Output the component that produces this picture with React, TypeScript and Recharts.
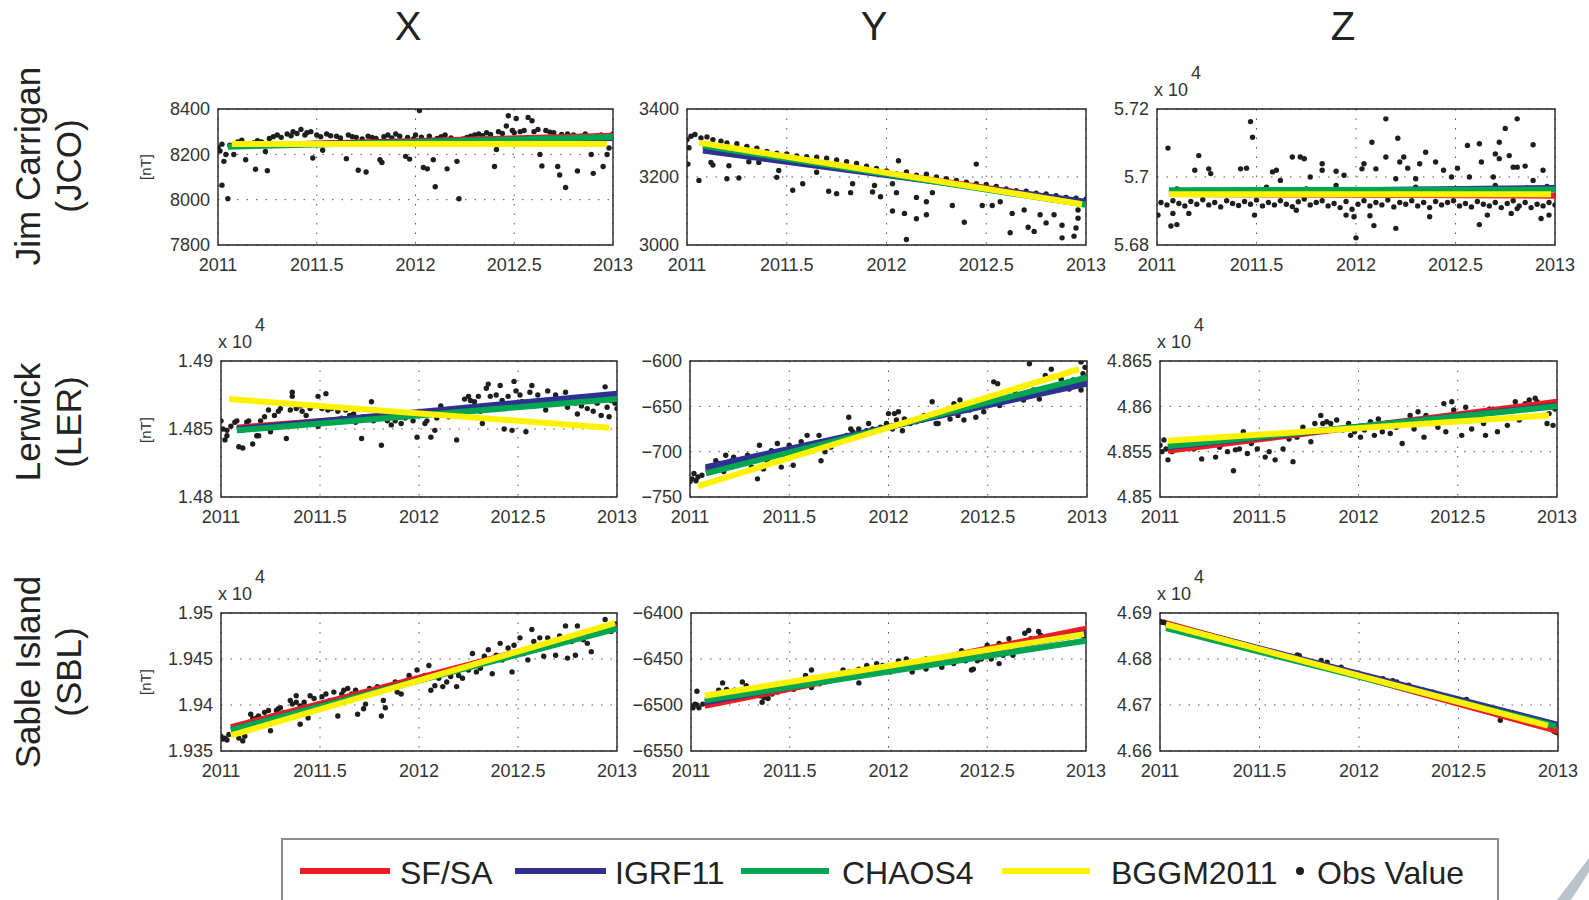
import React from "react";
import {
  ComposedChart,
  Scatter,
  XAxis,
  YAxis,
  CartesianGrid,
  ReferenceArea,
} from "recharts";

type Pair = [number, number];

const years = [2011, 2011.5, 2012, 2012.5, 2013];
const components = ["X", "Y", "Z"];
const stations = [
  ["Jim Carrigan", "(JCO)"],
  ["Lerwick", "(LER)"],
  ["Sable Island", "(SBL)"],
];
const modelNames = ["SF/SA", "IGRF11", "CHAOS4", "BGGM2011"];
const modelColors = ["#ed1c24", "#2e3192", "#00a651", "#fff200"];

// y ticks per panel (nT)
const jcoXTicks = [7800, 8000, 8200, 8400];
const jcoYTicks = [3000, 3200, 3400];
const jcoZTicks = [56800, 57000, 57200];
const lerXTicks = [14800, 14850, 14900];
const lerYTicks = [-750, -700, -650, -600];
const lerZTicks = [48500, 48550, 48600, 48650];
const sblXTicks = [19350, 19400, 19450, 19500];
const sblYTicks = [-6550, -6500, -6450, -6400];
const sblZTicks = [46600, 46700, 46800, 46900];

// model fit lines, start and end: SF/SA, IGRF11, CHAOS4, BGGM2011
const jcoXFits: Pair[][] = [
  [[2011.08, 8238], [2013, 8282]],
  [[2011.08, 8240], [2013, 8272]],
  [[2011.05, 8234], [2013, 8276]],
  [[2011.07, 8246], [2012.97, 8246]],
];
const jcoYFits: Pair[][] = [
  [[2011.08, 3290], [2013, 3125]],
  [[2011.08, 3278], [2013, 3127]],
  [[2011.08, 3292], [2013, 3118]],
  [[2011.06, 3301], [2012.98, 3120]],
];
const jcoZFits: Pair[][] = [
  [[2011.06, 56950], [2013, 56945]],
  [[2011.06, 56955], [2013, 56968]],
  [[2011.06, 56961], [2013, 56963]],
  [[2011.06, 56949], [2012.98, 56949]],
];
const lerXFits: Pair[][] = [
  [[2011.08, 14851], [2013, 14873]],
  [[2011.08, 14850], [2013, 14876]],
  [[2011.08, 14849], [2013, 14872]],
  [[2011.04, 14872], [2012.96, 14851]],
];
const lerYFits: Pair[][] = [
  [[2011.08, -722], [2013, -620]],
  [[2011.08, -717], [2013, -625]],
  [[2011.08, -724], [2013, -618]],
  [[2011.04, -738], [2012.96, -609]],
];
const lerZFits: Pair[][] = [
  [[2011.04, 48551], [2013, 48605]],
  [[2011.04, 48555], [2013, 48601]],
  [[2011.04, 48556], [2013, 48600]],
  [[2011.04, 48562], [2012.96, 48590]],
];
const sblXFits: Pair[][] = [
  [[2011.05, 19376], [2013, 19486]],
  [[2011.05, 19373], [2013, 19484]],
  [[2011.05, 19373], [2013, 19483]],
  [[2011.05, 19367], [2012.99, 19489]],
];
const sblYFits: Pair[][] = [
  [[2011.07, -6501], [2013, -6417]],
  [[2011.07, -6497], [2013, -6422]],
  [[2011.07, -6495], [2013, -6430]],
  [[2011.07, -6490], [2012.99, -6423]],
];
const sblZFits: Pair[][] = [
  [[2011.03, 46878], [2013, 46643]],
  [[2011.03, 46875], [2013, 46657]],
  [[2011.03, 46867], [2012.99, 46654]],
  [[2011.03, 46875], [2012.95, 46655]],
];

// observatory values
const jcoXObs: Pair[] = [
  [2011.0, 8230], [2011.01, 8215], [2011.02, 8064], [2011.02, 8245], [2011.03, 8169], [2011.04, 8199],
  [2011.05, 8004], [2011.06, 8240], [2011.08, 8199], [2011.1, 8255], [2011.12, 8262], [2011.14, 8176],
  [2011.15, 8245], [2011.18, 8250], [2011.19, 8134], [2011.2, 8260], [2011.22, 8255], [2011.24, 8213],
  [2011.25, 8128], [2011.26, 8270], [2011.28, 8278], [2011.3, 8285], [2011.32, 8275], [2011.35, 8290],
  [2011.37, 8282], [2011.38, 8300], [2011.4, 8292], [2011.42, 8310], [2011.44, 8285], [2011.45, 8295],
  [2011.47, 8300], [2011.48, 8184], [2011.5, 8285], [2011.52, 8278], [2011.53, 8218], [2011.55, 8290],
  [2011.57, 8282], [2011.6, 8280], [2011.62, 8272], [2011.65, 8181], [2011.66, 8285], [2011.68, 8278],
  [2011.7, 8275], [2011.71, 8130], [2011.73, 8268], [2011.75, 8122], [2011.76, 8280], [2011.78, 8274],
  [2011.8, 8270], [2011.82, 8176], [2011.83, 8164], [2011.84, 8278], [2011.86, 8285], [2011.88, 8272],
  [2011.9, 8290], [2011.92, 8280], [2011.95, 8191], [2011.96, 8275], [2011.97, 8179], [2011.99, 8268],
  [2012.0, 8285], [2012.02, 8393], [2012.03, 8276], [2012.04, 8142], [2012.06, 8136], [2012.07, 8280],
  [2012.09, 8176], [2012.1, 8057], [2012.11, 8270], [2012.13, 8278], [2012.15, 8285], [2012.16, 8136],
  [2012.18, 8272], [2012.2, 8265], [2012.21, 8169], [2012.22, 8004], [2012.24, 8268], [2012.26, 8275],
  [2012.28, 8280], [2012.3, 8285], [2012.32, 8290], [2012.34, 8282], [2012.36, 8295], [2012.38, 8288],
  [2012.4, 8146], [2012.41, 8221], [2012.42, 8300], [2012.44, 8292], [2012.46, 8325], [2012.47, 8370],
  [2012.49, 8305], [2012.5, 8295], [2012.51, 8358], [2012.53, 8300], [2012.55, 8305], [2012.57, 8363],
  [2012.59, 8348], [2012.6, 8300], [2012.62, 8310], [2012.63, 8199], [2012.64, 8149], [2012.66, 8305],
  [2012.68, 8298], [2012.7, 8295], [2012.72, 8146], [2012.73, 8109], [2012.74, 8288], [2012.76, 8054],
  [2012.77, 8290], [2012.8, 8285], [2012.82, 8127], [2012.84, 8280], [2012.86, 8290], [2012.88, 8278],
  [2012.89, 8199], [2012.9, 8116], [2012.92, 8282], [2012.94, 8285], [2012.95, 8146], [2012.97, 8199],
  [2012.98, 8228], [2013.0, 8290],
];
const jcoYObs: Pair[] = [
  [2011.0, 3310], [2011.005, 3238], [2011.01, 3286], [2011.02, 3320], [2011.04, 3325], [2011.06, 3190],
  [2011.07, 3315], [2011.1, 3318], [2011.12, 3243], [2011.13, 3235], [2011.13, 3310], [2011.17, 3305],
  [2011.2, 3195], [2011.2, 3300], [2011.21, 3233], [2011.25, 3298], [2011.26, 3197], [2011.3, 3290],
  [2011.31, 3245], [2011.35, 3285], [2011.36, 3243], [2011.4, 3275], [2011.45, 3199], [2011.45, 3270],
  [2011.46, 3219], [2011.5, 3268], [2011.53, 3161], [2011.55, 3262], [2011.58, 3180], [2011.6, 3260],
  [2011.65, 3214], [2011.65, 3258], [2011.7, 3255], [2011.71, 3158], [2011.75, 3151], [2011.75, 3250],
  [2011.8, 3245], [2011.82, 3154], [2011.83, 3180], [2011.85, 3240], [2011.9, 3232], [2011.93, 3156],
  [2011.94, 3175], [2011.95, 3225], [2011.97, 3142], [2012.0, 3218], [2012.03, 3180], [2012.03, 3100],
  [2012.05, 3154], [2012.05, 3210], [2012.06, 3248], [2012.09, 3093], [2012.1, 3016], [2012.1, 3215],
  [2012.15, 3140], [2012.15, 3077], [2012.15, 3205], [2012.2, 3127], [2012.2, 3089], [2012.2, 3208],
  [2012.23, 3154], [2012.25, 3200], [2012.3, 3195], [2012.33, 3116], [2012.35, 3190], [2012.39, 3067],
  [2012.4, 3185], [2012.45, 3238], [2012.45, 3180], [2012.48, 3116], [2012.5, 3178], [2012.53, 3116],
  [2012.55, 3172], [2012.57, 3127], [2012.6, 3165], [2012.62, 3036], [2012.63, 3093], [2012.65, 3160],
  [2012.69, 3103], [2012.7, 3158], [2012.71, 3052], [2012.74, 3040], [2012.75, 3152], [2012.77, 3089],
  [2012.8, 3065], [2012.8, 3150], [2012.84, 3089], [2012.85, 3145], [2012.88, 3021], [2012.88, 3058],
  [2012.9, 3140], [2012.94, 3026], [2012.95, 3050], [2012.95, 3138], [2012.96, 3079], [2012.96, 3103],
  [2013.0, 3135],
];
const jcoZObs: Pair[] = [
  [2011.005, 56888], [2011.02, 56925], [2011.05, 56918], [2011.055, 57085], [2011.07, 56856], [2011.08, 56893],
  [2011.08, 56930], [2011.1, 56860], [2011.1, 56965], [2011.11, 56922], [2011.14, 56915], [2011.16, 56893],
  [2011.17, 56928], [2011.19, 57020], [2011.2, 56920], [2011.21, 57063], [2011.23, 56933], [2011.26, 57024],
  [2011.26, 56918], [2011.27, 57010], [2011.29, 56925], [2011.3, 56960], [2011.32, 56912], [2011.35, 56930],
  [2011.38, 56922], [2011.41, 56916], [2011.42, 57024], [2011.44, 56928], [2011.45, 57026], [2011.47, 57163],
  [2011.47, 56920], [2011.48, 57117], [2011.49, 56888], [2011.5, 56932], [2011.53, 56915], [2011.55, 56970],
  [2011.56, 56925], [2011.58, 57015], [2011.59, 56918], [2011.6, 57020], [2011.62, 56990], [2011.62, 56930],
  [2011.65, 56920], [2011.68, 57059], [2011.68, 56913], [2011.7, 56902], [2011.71, 56927], [2011.72, 57059],
  [2011.74, 57054], [2011.74, 56935], [2011.75, 56965], [2011.77, 57000], [2011.77, 56918], [2011.8, 56925],
  [2011.83, 57039], [2011.83, 57020], [2011.83, 56930], [2011.86, 56915], [2011.89, 56922], [2011.9, 57017],
  [2011.9, 56975], [2011.92, 56910], [2011.94, 57005], [2011.95, 56888], [2011.95, 56928], [2011.98, 56905],
  [2011.99, 56883], [2012.0, 56821], [2012.01, 56920], [2012.03, 57024], [2012.04, 57039], [2012.04, 56930],
  [2012.07, 56886], [2012.07, 56915], [2012.08, 57102], [2012.09, 56857], [2012.1, 57024], [2012.1, 56925],
  [2012.12, 56960], [2012.13, 56918], [2012.15, 57171], [2012.15, 57059], [2012.16, 56932], [2012.19, 56912],
  [2012.2, 56995], [2012.2, 56849], [2012.21, 57114], [2012.22, 57044], [2012.22, 56925], [2012.24, 57059],
  [2012.25, 56920], [2012.26, 57026], [2012.28, 56930], [2012.3, 56995], [2012.3, 56970], [2012.31, 56915],
  [2012.32, 57039], [2012.34, 56925], [2012.35, 57073], [2012.37, 56883], [2012.37, 56910], [2012.4, 57044],
  [2012.4, 56928], [2012.43, 56918], [2012.44, 57020], [2012.46, 56925], [2012.48, 57000], [2012.49, 56930],
  [2012.5, 56965], [2012.51, 57026], [2012.52, 56915], [2012.55, 56922], [2012.56, 57093], [2012.57, 57000],
  [2012.58, 56912], [2012.61, 56928], [2012.62, 57098], [2012.62, 56860], [2012.63, 57044], [2012.64, 56920],
  [2012.66, 56888], [2012.67, 56915], [2012.69, 57000], [2012.7, 57068], [2012.7, 56975], [2012.7, 56925],
  [2012.72, 57054], [2012.72, 57102], [2012.73, 56910], [2012.75, 57143], [2012.76, 56922], [2012.77, 57063],
  [2012.78, 56893], [2012.79, 57029], [2012.79, 56930], [2012.81, 57171], [2012.81, 57029], [2012.81, 56907],
  [2012.82, 56915], [2012.85, 57032], [2012.85, 56925], [2012.86, 56968], [2012.88, 56910], [2012.89, 57095],
  [2012.89, 56990], [2012.91, 56920], [2012.93, 56878], [2012.94, 57020], [2012.94, 56915], [2012.96, 56972],
  [2012.97, 56888], [2012.97, 56925], [2013.0, 56918],
];
const lerXObs: Pair[] = [
  [2011.0, 14856], [2011.01, 14850], [2011.02, 14842], [2011.03, 14845], [2011.03, 14849], [2011.05, 14852],
  [2011.07, 14855], [2011.08, 14856], [2011.09, 14837], [2011.11, 14836], [2011.11, 14849], [2011.13, 14855],
  [2011.14, 14856], [2011.16, 14839], [2011.18, 14845], [2011.19, 14845], [2011.2, 14856], [2011.22, 14859],
  [2011.24, 14864], [2011.25, 14848], [2011.27, 14860], [2011.29, 14863], [2011.3, 14865], [2011.33, 14843],
  [2011.35, 14864], [2011.36, 14877], [2011.36, 14874], [2011.38, 14865], [2011.4, 14867], [2011.41, 14863],
  [2011.43, 14860], [2011.45, 14865], [2011.46, 14867], [2011.49, 14874], [2011.49, 14852], [2011.51, 14865],
  [2011.53, 14876], [2011.54, 14864], [2011.56, 14865], [2011.59, 14863], [2011.61, 14858], [2011.63, 14864],
  [2011.65, 14860], [2011.67, 14861], [2011.68, 14855], [2011.71, 14843], [2011.72, 14859], [2011.74, 14858],
  [2011.76, 14870], [2011.77, 14856], [2011.81, 14838], [2011.82, 14859], [2011.84, 14856], [2011.86, 14853],
  [2011.88, 14856], [2011.91, 14854], [2011.93, 14858], [2011.94, 14861], [2011.97, 14856], [2011.99, 14844],
  [2012.0, 14860], [2012.03, 14854], [2012.04, 14856], [2012.06, 14844], [2012.08, 14849], [2012.09, 14858],
  [2012.11, 14867], [2012.12, 14861], [2012.15, 14859], [2012.19, 14842], [2012.2, 14863], [2012.22, 14861],
  [2012.23, 14872], [2012.25, 14874], [2012.26, 14871], [2012.28, 14870], [2012.3, 14874], [2012.31, 14863],
  [2012.32, 14854], [2012.34, 14880], [2012.35, 14883], [2012.36, 14874], [2012.37, 14865], [2012.39, 14875],
  [2012.41, 14882], [2012.42, 14871], [2012.43, 14850], [2012.45, 14874], [2012.47, 14849], [2012.48, 14885],
  [2012.49, 14878], [2012.51, 14875], [2012.52, 14870], [2012.54, 14848], [2012.56, 14877], [2012.57, 14882],
  [2012.58, 14867], [2012.6, 14875], [2012.63, 14870], [2012.64, 14864], [2012.65, 14878], [2012.68, 14869],
  [2012.69, 14875], [2012.71, 14870], [2012.74, 14877], [2012.75, 14866], [2012.77, 14871], [2012.79, 14869],
  [2012.8, 14861], [2012.82, 14867], [2012.84, 14871], [2012.85, 14865], [2012.88, 14863], [2012.9, 14869],
  [2012.92, 14860], [2012.94, 14881], [2012.95, 14866], [2012.96, 14859], [2012.97, 14871], [2012.99, 14869],
  [2013.0, 14865],
];
const lerYObs: Pair[] = [
  [2011.0, -733], [2011.01, -730], [2011.02, -724], [2011.03, -732], [2011.04, -728], [2011.06, -726],
  [2011.09, -717], [2011.1, -722], [2011.13, -710], [2011.15, -713], [2011.17, -722], [2011.18, -704],
  [2011.21, -710], [2011.22, -706], [2011.25, -711], [2011.29, -704], [2011.31, -717], [2011.34, -730],
  [2011.35, -693], [2011.37, -719], [2011.39, -711], [2011.41, -699], [2011.44, -691], [2011.46, -717],
  [2011.47, -704], [2011.5, -693], [2011.52, -715], [2011.55, -702], [2011.56, -689], [2011.59, -682],
  [2011.62, -699], [2011.65, -682], [2011.66, -710], [2011.68, -700], [2011.71, -695], [2011.76, -688],
  [2011.79, -682], [2011.8, -662], [2011.81, -675], [2011.82, -678], [2011.85, -675], [2011.89, -677],
  [2011.9, -669], [2011.92, -675], [2011.96, -673], [2011.99, -669], [2012.0, -658], [2012.02, -675],
  [2012.03, -658], [2012.04, -665], [2012.05, -656], [2012.07, -677], [2012.08, -664], [2012.11, -669],
  [2012.14, -667], [2012.17, -665], [2012.18, -660], [2012.22, -645], [2012.24, -669], [2012.25, -669],
  [2012.27, -660], [2012.31, -664], [2012.33, -647], [2012.35, -660], [2012.36, -643], [2012.38, -665],
  [2012.41, -654], [2012.44, -662], [2012.48, -656], [2012.51, -647], [2012.53, -623], [2012.55, -625],
  [2012.56, -649], [2012.6, -640], [2012.64, -636], [2012.68, -643], [2012.71, -603], [2012.73, -632],
  [2012.76, -642], [2012.79, -616], [2012.82, -609], [2012.85, -627], [2012.87, -620], [2012.91, -631],
  [2012.93, -621], [2012.97, -632], [2012.97, -601], [2012.98, -614], [2012.99, -607], [2013.0, -618],
];
const lerZObs: Pair[] = [
  [2011.0, 48557], [2011.01, 48550], [2011.02, 48563], [2011.03, 48553], [2011.04, 48541], [2011.06, 48550],
  [2011.08, 48553], [2011.12, 48555], [2011.17, 48553], [2011.21, 48542], [2011.24, 48557], [2011.28, 48544],
  [2011.3, 48555], [2011.34, 48550], [2011.37, 48529], [2011.38, 48552], [2011.4, 48553], [2011.42, 48572],
  [2011.44, 48548], [2011.46, 48559], [2011.49, 48553], [2011.5, 48564], [2011.53, 48544], [2011.55, 48550],
  [2011.58, 48541], [2011.6, 48568], [2011.62, 48553], [2011.65, 48564], [2011.67, 48539], [2011.69, 48566],
  [2011.72, 48577], [2011.74, 48570], [2011.76, 48561], [2011.78, 48581], [2011.81, 48590], [2011.82, 48581],
  [2011.84, 48583], [2011.86, 48581], [2011.89, 48585], [2011.92, 48574], [2011.95, 48581], [2011.96, 48568],
  [2011.98, 48572], [2012.01, 48566], [2012.03, 48574], [2012.06, 48583], [2012.08, 48568], [2012.1, 48586],
  [2012.12, 48572], [2012.16, 48570], [2012.19, 48577], [2012.22, 48559], [2012.26, 48590], [2012.28, 48575],
  [2012.3, 48594], [2012.33, 48566], [2012.34, 48590], [2012.38, 48581], [2012.4, 48577], [2012.43, 48603],
  [2012.44, 48572], [2012.47, 48605], [2012.48, 48596], [2012.52, 48568], [2012.54, 48599], [2012.57, 48575],
  [2012.6, 48588], [2012.63, 48581], [2012.64, 48568], [2012.66, 48597], [2012.7, 48572], [2012.72, 48594],
  [2012.75, 48579], [2012.79, 48605], [2012.81, 48585], [2012.84, 48603], [2012.86, 48607], [2012.89, 48609],
  [2012.9, 48605], [2012.93, 48601], [2012.95, 48581], [2012.96, 48592], [2012.98, 48579], [2012.99, 48597],
  [2013.0, 48603],
];
const sblXObs: Pair[] = [
  [2011.0, 19366], [2011.01, 19363], [2011.02, 19364], [2011.03, 19362], [2011.04, 19368], [2011.09, 19364],
  [2011.11, 19361], [2011.12, 19366], [2011.14, 19381], [2011.15, 19390], [2011.16, 19385], [2011.18, 19386],
  [2011.19, 19388], [2011.22, 19392], [2011.24, 19394], [2011.25, 19372], [2011.26, 19388], [2011.28, 19394],
  [2011.29, 19396], [2011.3, 19397], [2011.32, 19392], [2011.34, 19388], [2011.35, 19405], [2011.36, 19401],
  [2011.38, 19403], [2011.38, 19410], [2011.4, 19399], [2011.4, 19379], [2011.42, 19403], [2011.44, 19386],
  [2011.45, 19410], [2011.47, 19407], [2011.49, 19401], [2011.51, 19409], [2011.53, 19412], [2011.55, 19405],
  [2011.57, 19414], [2011.59, 19388], [2011.61, 19412], [2011.62, 19416], [2011.64, 19418], [2011.66, 19412],
  [2011.68, 19416], [2011.69, 19390], [2011.72, 19396], [2011.73, 19401], [2011.75, 19418], [2011.78, 19416],
  [2011.79, 19420], [2011.81, 19388], [2011.82, 19405], [2011.83, 19397], [2011.85, 19421], [2011.88, 19425],
  [2011.89, 19414], [2011.91, 19412], [2011.94, 19427], [2011.95, 19432], [2011.97, 19425], [2011.99, 19438],
  [2012.0, 19427], [2012.03, 19432], [2012.05, 19443], [2012.06, 19416], [2012.08, 19421], [2012.1, 19429],
  [2012.12, 19420], [2012.14, 19425], [2012.16, 19431], [2012.19, 19420], [2012.2, 19432], [2012.22, 19429],
  [2012.25, 19438], [2012.27, 19456], [2012.29, 19436], [2012.31, 19440], [2012.33, 19453], [2012.35, 19460],
  [2012.37, 19434], [2012.39, 19454], [2012.41, 19467], [2012.42, 19449], [2012.45, 19462], [2012.47, 19436],
  [2012.48, 19465], [2012.51, 19473], [2012.53, 19456], [2012.55, 19449], [2012.57, 19482], [2012.58, 19469],
  [2012.61, 19473], [2012.63, 19453], [2012.65, 19473], [2012.69, 19454], [2012.71, 19475], [2012.74, 19486],
  [2012.75, 19451], [2012.77, 19469], [2012.79, 19454], [2012.8, 19486], [2012.83, 19471], [2012.85, 19467],
  [2012.87, 19458], [2012.89, 19477], [2012.91, 19478], [2012.94, 19493], [2012.95, 19482], [2012.97, 19480],
  [2012.99, 19488], [2013.0, 19484],
];
const sblYObs: Pair[] = [
  [2011.0, -6501], [2011.01, -6503], [2011.02, -6499], [2011.03, -6500], [2011.03, -6485], [2011.04, -6503],
  [2011.06, -6499], [2011.14, -6484], [2011.16, -6476], [2011.18, -6483], [2011.22, -6484], [2011.26, -6475],
  [2011.28, -6479], [2011.3, -6486], [2011.33, -6488], [2011.35, -6490], [2011.36, -6497], [2011.37, -6492],
  [2011.39, -6493], [2011.41, -6488], [2011.44, -6486], [2011.47, -6484], [2011.49, -6481], [2011.52, -6483],
  [2011.55, -6479], [2011.58, -6468], [2011.61, -6462], [2011.61, -6481], [2011.65, -6477], [2011.7, -6470],
  [2011.77, -6462], [2011.8, -6464], [2011.85, -6476], [2011.85, -6461], [2011.89, -6457], [2011.94, -6455],
  [2011.97, -6457], [2012.01, -6464], [2012.05, -6452], [2012.09, -6450], [2012.12, -6464], [2012.16, -6455],
  [2012.19, -6450], [2012.19, -6461], [2012.23, -6455], [2012.27, -6459], [2012.29, -6453], [2012.33, -6455],
  [2012.37, -6441], [2012.39, -6452], [2012.42, -6462], [2012.43, -6461], [2012.45, -6452], [2012.47, -6450],
  [2012.5, -6435], [2012.52, -6450], [2012.56, -6455], [2012.56, -6433], [2012.58, -6446], [2012.61, -6428],
  [2012.63, -6446], [2012.66, -6439], [2012.69, -6422], [2012.71, -6419], [2012.72, -6428], [2012.76, -6420],
  [2012.77, -6424], [2012.8, -6428], [2012.84, -6426], [2012.89, -6424], [2012.92, -6422], [2012.95, -6420],
  [2012.97, -6431], [2012.99, -6426],
];
const sblZObs: Pair[] = [
  [2011.0, 46882], [2011.01, 46880], [2011.02, 46880], [2011.03, 46878], [2011.3, 46845], [2011.5, 46822],
  [2011.69, 46809], [2011.7, 46807], [2011.81, 46797], [2011.84, 46793], [2011.91, 46782], [2012.12, 46757],
  [2012.17, 46753], [2012.19, 46750], [2012.25, 46743], [2012.32, 46732], [2012.37, 46728], [2012.54, 46712],
  [2012.56, 46704], [2012.68, 46691], [2012.71, 46667], [2012.77, 46683], [2012.98, 46643], [2012.99, 46641],
  [2013.0, 46639],
];

type PanelSpec = {
  obs: Pair[];
  fits: Pair[][];
  ticks: number[];
  exp: boolean;
};

const panels: PanelSpec[][] = [
  [
    { obs: jcoXObs, fits: jcoXFits, ticks: jcoXTicks, exp: false },
    { obs: jcoYObs, fits: jcoYFits, ticks: jcoYTicks, exp: false },
    { obs: jcoZObs, fits: jcoZFits, ticks: jcoZTicks, exp: true },
  ],
  [
    { obs: lerXObs, fits: lerXFits, ticks: lerXTicks, exp: true },
    { obs: lerYObs, fits: lerYFits, ticks: lerYTicks, exp: false },
    { obs: lerZObs, fits: lerZFits, ticks: lerZTicks, exp: true },
  ],
  [
    { obs: sblXObs, fits: sblXFits, ticks: sblXTicks, exp: true },
    { obs: sblYObs, fits: sblYFits, ticks: sblYTicks, exp: false },
    { obs: sblZObs, fits: sblZFits, ticks: sblZTicks, exp: true },
  ],
];

// plot frames on the page
const rowTops = [109, 361, 613];
const rowHeights = [136, 136, 138];
const colLefts = [
  [218, 687, 1157],
  [221, 690, 1160],
  [221, 691, 1160],
];
const colWidths = [
  [395, 399, 398],
  [396, 397, 397],
  [396, 395, 398],
];

const FONT = "'Liberation Sans', Arial, Helvetica, sans-serif";
const TICK = { fontSize: 18, fill: "#333", fontFamily: FONT };

const toPts = (arr: Pair[]) => arr.map(([x, y]) => ({ x, y }));

const ObsDot = (p: any) => <circle cx={p.cx} cy={p.cy} r={2.7} fill="#1e1e1e" />;
const NoDot = () => <g />;

const Panel = ({
  spec,
  left,
  top,
  w,
  h,
}: {
  spec: PanelSpec;
  left: number;
  top: number;
  w: number;
  h: number;
}) => {
  const ML = 80;
  const MT = 14;
  const MR = 30;
  const MB = 36;
  const yMin = spec.ticks[0];
  const yMax = spec.ticks[spec.ticks.length - 1];
  const fmt = (v: number) => {
    const s = spec.exp ? String(parseFloat((v / 1e4).toFixed(4))) : String(v);
    return s.replace("-", "\u2212");
  };
  return (
    <div style={{ position: "absolute", left: left - ML, top: top - MT }}>
      <ComposedChart
        width={w + ML + MR}
        height={h + MT + MB}
        margin={{ top: MT, right: MR, bottom: 0, left: 0 }}
      >
        <CartesianGrid stroke="#555" strokeDasharray="1.5 8" />
        <XAxis
          type="number"
          dataKey="x"
          domain={[2011, 2013]}
          ticks={years}
          interval={0}
          height={MB}
          tickSize={0}
          tickMargin={13}
          axisLine={false}
          tick={TICK}
          allowDataOverflow
        />
        <YAxis
          type="number"
          dataKey="y"
          domain={[yMin, yMax]}
          ticks={spec.ticks}
          interval={0}
          width={ML}
          tickSize={0}
          tickMargin={8}
          axisLine={false}
          tick={TICK}
          tickFormatter={fmt}
          allowDataOverflow
        />
        <Scatter data={toPts(spec.obs)} shape={ObsDot} isAnimationActive={false} />
        {spec.fits.map((f, i) => (
          <Scatter
            key={modelNames[i]}
            data={toPts(f)}
            fill={modelColors[i]}
            line={{ stroke: modelColors[i], strokeWidth: 6 }}
            shape={NoDot}
            isAnimationActive={false}
          />
        ))}
        <ReferenceArea
          x1={2011}
          x2={2013}
          y1={yMin}
          y2={yMax}
          fill="none"
          stroke="#222"
          strokeWidth={1.4}
          fillOpacity={0}
        />
      </ComposedChart>
    </div>
  );
};

const abs = (extra: React.CSSProperties): React.CSSProperties => ({
  position: "absolute",
  fontFamily: FONT,
  color: "#222",
  whiteSpace: "nowrap",
  ...extra,
});

const headerX = [408, 874, 1343];
const stationY = [166, 422, 672];
const unitY = [167, 430, 682];

export default function App() {
  return (
    <div
      style={{
        position: "absolute",
        left: 0,
        top: 0,
        width: 1589,
        height: 900,
        overflow: "hidden",
        background: "#fff",
      }}
    >
      {components.map((c, i) => (
        <div
          key={c}
          style={abs({
            left: headerX[i],
            top: 26,
            fontSize: 40,
            lineHeight: "40px",
            transform: "translate(-50%, -50%)",
          })}
        >
          {c}
        </div>
      ))}

      {stations.map((s, r) => (
        <div
          key={s[0]}
          style={abs({
            left: 48,
            top: stationY[r],
            fontSize: 35,
            lineHeight: "41px",
            textAlign: "center",
            transform: "translate(-50%, -50%) rotate(-90deg)",
          })}
        >
          {s[0]}
          <br />
          {s[1]}
        </div>
      ))}

      {unitY.map((y, r) => (
        <div
          key={"u" + r}
          style={abs({
            left: 145,
            top: y,
            fontSize: 15,
            lineHeight: "15px",
            color: "#333",
            transform: "translate(-50%, -50%) rotate(-90deg)",
          })}
        >
          [nT]
        </div>
      ))}

      {panels.map((row, r) =>
        row.map((spec, c) => (
          <React.Fragment key={`${r}-${c}`}>
            <Panel
              spec={spec}
              left={colLefts[r][c]}
              top={rowTops[r]}
              w={colWidths[r][c]}
              h={rowHeights[r]}
            />
            {spec.exp && (
              <>
                <div
                  style={abs({
                    left: colLefts[r][c] - 3,
                    top: rowTops[r] - 28,
                    fontSize: 18,
                    lineHeight: "18px",
                    color: "#333",
                  })}
                >
                  x 10
                </div>
                <div
                  style={abs({
                    left: colLefts[r][c] + 34,
                    top: rowTops[r] - 45,
                    fontSize: 18,
                    lineHeight: "18px",
                    color: "#333",
                  })}
                >
                  4
                </div>
              </>
            )}
          </React.Fragment>
        ))
      )}

      {/* legend */}
      <div
        style={{
          position: "absolute",
          left: 281,
          top: 838,
          width: 1214,
          height: 66,
          border: "2px solid #8c8c8c",
          background: "#fff",
        }}
      />
      {[
        { line: [300, 390], text: 400 },
        { line: [515, 606], text: 615 },
        { line: [741, 829], text: 842 },
        { line: [1002, 1090], text: 1111 },
      ].map((it, i) => (
        <React.Fragment key={modelNames[i]}>
          <div
            style={{
              position: "absolute",
              left: it.line[0],
              top: 868,
              width: it.line[1] - it.line[0],
              height: 6,
              background: modelColors[i],
            }}
          />
          <div style={abs({ left: it.text, top: 855, fontSize: 32, lineHeight: "36px" })}>
            {modelNames[i]}
          </div>
        </React.Fragment>
      ))}
      <div
        style={{
          position: "absolute",
          left: 1296,
          top: 867,
          width: 8,
          height: 8,
          borderRadius: 4,
          background: "#1e1e1e",
        }}
      />
      <div style={abs({ left: 1317, top: 855, fontSize: 32, lineHeight: "36px" })}>Obs Value</div>

      <svg
        width={40}
        height={50}
        style={{ position: "absolute", left: 1549, top: 850 }}
      >
        <polygon points="40,8 40,22 22,50 8,50" fill="#b9c3cc" />
      </svg>
    </div>
  );
}
